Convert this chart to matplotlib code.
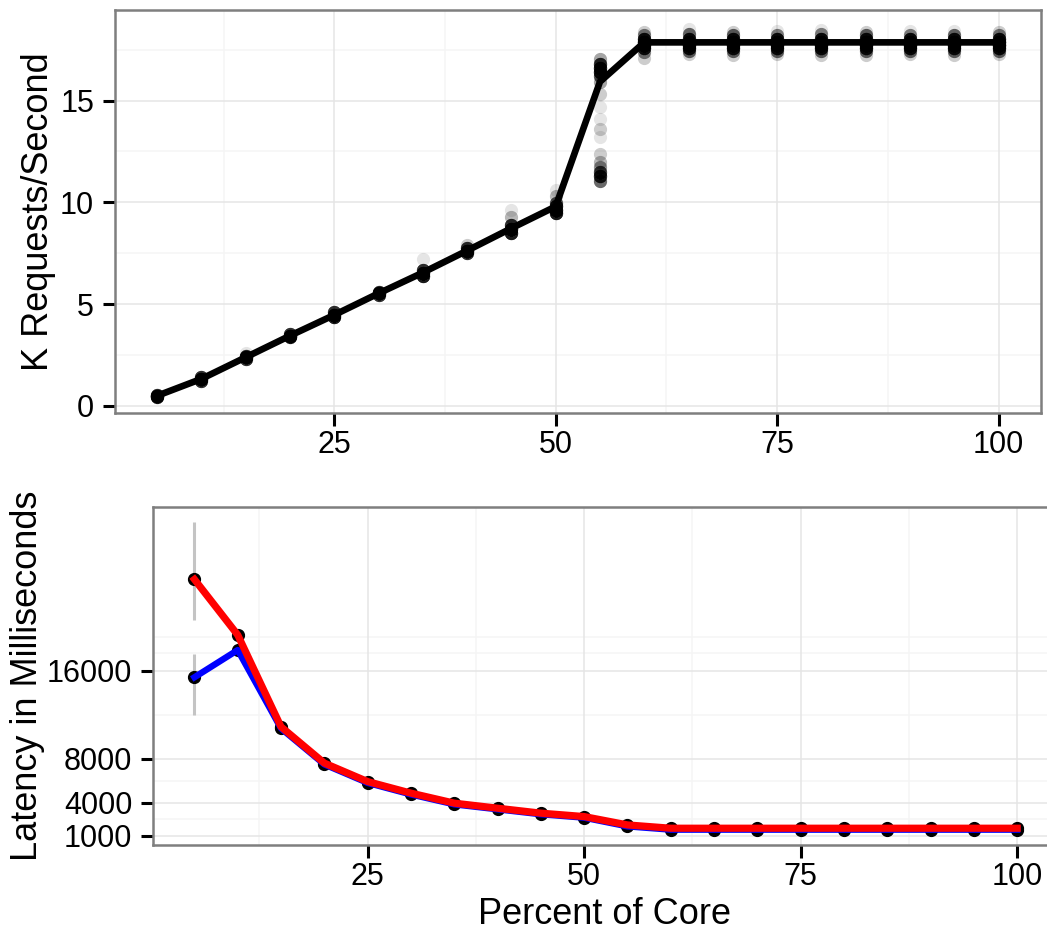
import matplotlib
matplotlib.use('Agg')
import numpy as np
import matplotlib.pyplot as plt

plt.rcParams['font.family'] = ['Liberation Sans', 'DejaVu Sans']

# percent of one core given to the server
pct = [5, 10, 15, 20, 25, 30, 35, 40, 45, 50,
       55, 60, 65, 70, 75, 80, 85, 90, 95, 100]

# mean throughput per setting (K requests/second)
krps_mean = [0.50, 1.33, 2.39, 3.45, 4.47, 5.53, 6.55, 7.63, 8.73, 9.80,
             15.93, 17.86, 17.86, 17.86, 17.86, 17.86, 17.86, 17.86, 17.86, 17.86]

# individual runs: observed throughput levels and how many runs hit each
run_krps = [
    [0.45, 0.50, 0.55],
    [1.25, 1.33, 1.41],
    [2.32, 2.39, 2.46, 2.60],
    [3.37, 3.45, 3.53],
    [4.35, 4.47, 4.60],
    [5.45, 5.53, 5.62],
    [6.40, 6.55, 6.70, 7.20],
    [7.50, 7.63, 7.75, 7.90],
    [8.50, 8.70, 8.90, 9.30, 9.65],
    [9.50, 9.65, 9.80, 9.95, 10.30, 10.60],
    [11.05, 11.30, 11.50, 11.75, 12.00, 12.40, 13.20, 13.60, 14.10,
     14.70, 15.30, 15.90, 16.20, 16.40, 16.60, 16.80, 17.05],
    [17.10, 17.40, 17.60, 17.75, 17.90, 18.05, 18.20, 18.35],
    [17.30, 17.45, 17.60, 17.75, 17.90, 18.05, 18.25, 18.50],
    [17.25, 17.45, 17.60, 17.75, 17.90, 18.05, 18.20, 18.35],
    [17.30, 17.45, 17.60, 17.75, 17.90, 18.05, 18.20, 18.40],
    [17.25, 17.45, 17.60, 17.75, 17.90, 18.05, 18.25, 18.45],
    [17.25, 17.45, 17.60, 17.75, 17.90, 18.05, 18.20, 18.35],
    [17.30, 17.45, 17.60, 17.75, 17.90, 18.05, 18.20, 18.40],
    [17.25, 17.45, 17.60, 17.75, 17.90, 18.05, 18.20, 18.40],
    [17.30, 17.45, 17.60, 17.75, 17.90, 18.05, 18.20, 18.35],
]
run_count = [
    [15, 30, 15],
    [15, 30, 15],
    [15, 30, 15, 1],
    [15, 30, 15],
    [20, 25, 15],
    [15, 30, 15],
    [20, 25, 15, 1],
    [15, 30, 15, 2],
    [20, 25, 15, 3, 1],
    [20, 20, 20, 10, 3, 1],
    [8, 16, 12, 5, 3, 2, 1, 2, 1, 1, 2, 4, 10, 20, 20, 15, 4],
    [2, 6, 20, 30, 30, 20, 6, 2],
    [2, 8, 20, 30, 30, 20, 8, 1],
    [2, 8, 20, 30, 30, 20, 8, 2],
    [2, 8, 20, 30, 30, 20, 6, 1],
    [2, 8, 20, 30, 30, 20, 6, 1],
    [2, 8, 20, 30, 30, 20, 8, 2],
    [2, 8, 20, 30, 30, 20, 6, 1],
    [2, 8, 20, 30, 30, 20, 8, 1],
    [2, 8, 20, 30, 30, 20, 6, 2],
]

# latency in ms: mean (red) and median (blue)
lat_mean = [24300, 19250, 10900, 7600, 5920, 4870, 3960, 3500, 3050, 2740,
            1980, 1680, 1680, 1680, 1680, 1680, 1680, 1680, 1680, 1680]
lat_median = [15400, 17880, 10750, 7480, 5800, 4750, 3850, 3400, 2950, 2640,
              1850, 1550, 1550, 1550, 1550, 1550, 1550, 1550, 1550, 1550]

# spread of latency at the lowest setting
err_pct = [5]
mean_lo = [20600]
mean_hi = [29550]
median_lo = [11970]
median_hi = [17490]

W, H = 1047, 930
fig = plt.figure(figsize=(W / 100, H / 100), dpi=100)
ax1 = fig.add_axes([115 / W, 1 - 413.3 / H, 925.7 / W, 403.3 / H])
ax2 = fig.add_axes([153.3 / W, 1 - 845 / H, 905 / W, 338.3 / H])


def bw_style(ax, xmaj, xmin, ymaj, ymin):
    ax.set_facecolor('white')
    for v in xmin:
        ax.axvline(v, color='#f5f5f5', lw=1.1, zorder=0)
    for v in ymin:
        ax.axhline(v, color='#f5f5f5', lw=1.1, zorder=0)
    for v in xmaj:
        ax.axvline(v, color='#e5e5e5', lw=1.1, zorder=0)
    for v in ymaj:
        ax.axhline(v, color='#e5e5e5', lw=1.1, zorder=0)
    for s in ax.spines.values():
        s.set_color('#7f7f7f')
        s.set_linewidth(1.8)
        s.set_zorder(5)
    ax.set_xticks(xmaj)
    ax.set_yticks(ymaj)
    ax.tick_params(length=9, width=2.2, color='black', labelsize=22,
                   labelcolor='black')
    ax.tick_params(axis='x', pad=3)
    ax.tick_params(axis='y', pad=6)


# throughput panel
for x, lv, cn in zip(pct, run_krps, run_count):
    ys = np.repeat(lv, cn)
    ax1.scatter(np.full(len(ys), x), ys, s=9.5 ** 2, color='black',
                alpha=0.1, linewidths=0, zorder=2)
ax1.plot(pct, krps_mean, color='black', lw=4.8, zorder=3)
ax1.set_xlim(0.25, 104.75)
ax1.set_ylim(-0.36, 19.45)
bw_style(ax1, [25, 50, 75, 100], [12.5, 37.5, 62.5, 87.5],
         [0, 5, 10, 15], [2.5, 7.5, 12.5, 17.5])

# latency panel
ax2.vlines(err_pct, mean_lo, mean_hi, color='#c4c4c4', lw=2.2, zorder=2)
ax2.vlines(err_pct, median_lo, median_hi, color='#c4c4c4', lw=2.2, zorder=2)
ax2.scatter(pct, lat_median, s=8.5 ** 2, color='black', zorder=3)
ax2.scatter(pct, lat_mean, s=8.5 ** 2, color='black', zorder=3)
ax2.plot(pct, lat_median, color='blue', lw=4.6, zorder=4)
ax2.plot(pct, lat_mean, color='red', lw=5.2, zorder=5)
ax2.set_xlim(0.25, 104.75)
ax2.set_ylim(155, 30909)
bw_style(ax2, [25, 50, 75, 100], [12.5, 37.5, 62.5, 87.5],
         [1000, 4000, 8000, 16000], [2500, 6000, 12000, 17600, 19100])

fig.text(48 / W, 1 - 211.7 / H, 'K Requests/Second', rotation=90,
         rotation_mode='anchor', ha='center', va='baseline', fontsize=26)
fig.text(37 / W, 1 - 676 / H, 'Latency in Milliseconds', rotation=90,
         rotation_mode='anchor', ha='center', va='baseline', fontsize=26)
fig.text(605 / W, 1 - 924 / H, 'Percent of Core', ha='center',
         va='baseline', fontsize=26)

fig.savefig('out.png', dpi=100)
